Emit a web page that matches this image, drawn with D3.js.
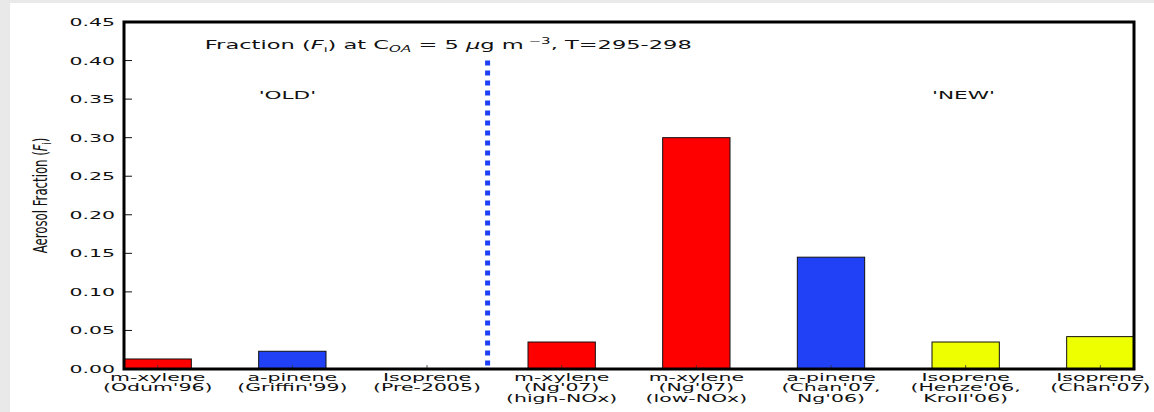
<!DOCTYPE html>
<html>
<head>
<meta charset="utf-8">
<script src="https://cdn.jsdelivr.net/npm/d3@7"></script>
<style>
  html, body { margin: 0; padding: 0; background: #e9e9e9; }
  svg { display: block; }
  text { font-family: "DejaVu Sans", sans-serif; fill: #111; }
</style>
</head>
<body>
<svg id="chart" width="1154" height="412"></svg>
<script>
// Aerosol fraction of SOA precursors at C_OA = 5 ug m^-3
const labelLines = [
  ["m-xylene", "(Odum'96)"],
  ["a-pinene", "(Griffin'99)"],
  ["Isoprene", "(Pre-2005)"],
  ["m-xylene", "(Ng'07)", "(high-NOx)"],
  ["m-xylene", "(Ng'07)", "(low-NOx)"],
  ["a-pinene", "(Chan'07,", "Ng'06)"],
  ["Isoprene", "(Henze'06,", "Kroll'06)"],
  ["Isoprene", "(Chan'07)"]
];
const fractions = [0.013, 0.023, 0.0, 0.035, 0.30, 0.145, 0.035, 0.042];
const barColors = ["#ff0000", "#2141f6", "#eeff00", "#ff0000", "#ff0000", "#2141f6", "#eeff00", "#eeff00"];
const yTicks = [0.00, 0.05, 0.10, 0.15, 0.20, 0.25, 0.30, 0.35, 0.40, 0.45];
const dividerX = 2.7;
const dividerTop = 0.40;
const groupNotes = [{ text: "'OLD'", x: 1.0, y: 0.35 }, { text: "'NEW'", x: 6.0, y: 0.35 }];

const svg = d3.select("#chart");
const SX = 1.86;   // horizontal glyph stretch

// white panel
svg.append("rect").attr("x", 10).attr("y", 3).attr("width", 1144).attr("height", 409).attr("fill", "#ffffff");

const plot = { left: 124, right: 1134, top: 22, bottom: 369 };
const x = d3.scaleLinear().domain([0, 7.5]).range([plot.left, plot.right]);
const y = d3.scaleLinear().domain([0, 0.45]).range([plot.bottom, plot.top]);

// stretched text helper
function stext(parent, px, py, anchor, size, sx) {
  const g = parent.append("g").attr("transform", `translate(${px},${py}) scale(${sx || SX},1)`);
  return g.append("text").attr("text-anchor", anchor).attr("font-size", size);
}

// bars
svg.append("g").selectAll("rect").data(fractions).join("rect")
  .attr("x", (d, i) => x(i))
  .attr("width", x(0.5) - x(0))
  .attr("y", d => y(d))
  .attr("height", d => y(0) - y(d))
  .attr("fill", (d, i) => barColors[i])
  .attr("stroke", d => d > 0 ? "#111" : "none")
  .attr("stroke-width", 1);

// x ticks (inside, bottom)
const xt = svg.append("g");
fractions.forEach((d, i) => {
  const cx = x(i + 0.25);
  xt.append("line").attr("x1", cx).attr("x2", cx).attr("y1", plot.bottom).attr("y2", plot.bottom - 4).attr("stroke", "#333").attr("stroke-width", 0.8);
});

// y ticks (inside) and labels
const yt = svg.append("g");
yTicks.forEach(v => {
  const py = y(v);
  yt.append("line").attr("x1", plot.left).attr("x2", plot.left + 8).attr("y1", py).attr("y2", py).attr("stroke", "#111").attr("stroke-width", 1);
  stext(yt, plot.left - 9, py + 4, "end", 11).text(d3.format(".2f")(v));
});

// category labels, one text per category
const xl = svg.append("g");
labelLines.forEach((lines, i) => {
  const t = stext(xl, x(i + 0.25), plot.bottom + 12, "middle", 11);
  lines.forEach((ln, k) => {
    t.append("tspan").attr("x", 0).attr("dy", k === 0 ? 0 : 10.5).text(ln);
  });
});

// divider between old and new studies
svg.append("line")
  .attr("x1", x(dividerX)).attr("x2", x(dividerX))
  .attr("y1", y(dividerTop)).attr("y2", y(0))
  .attr("stroke", "#1f3ff5").attr("stroke-width", 5)
  .attr("stroke-dasharray", "5,5");

// group notes
groupNotes.forEach(n => {
  stext(svg, x(n.x), y(n.y), "start", 10.8, 2.0).text(n.text);
});

// title with math
const title = stext(svg, x(0.6), y(0.415), "start", 12, 1.88);
title.append("tspan").text("Fraction (");
title.append("tspan").attr("font-style", "italic").text("F");
title.append("tspan").attr("font-size", 7.5).attr("dy", 3).text("i");
title.append("tspan").attr("dy", -3).text(") at C");
title.append("tspan").attr("font-style", "italic").attr("font-size", 8).attr("dy", 3).text("OA");
title.append("tspan").attr("dy", -3).text(" = 5 ");
title.append("tspan").attr("font-style", "italic").text("\u03bc");
title.append("tspan").text("g m");
title.append("tspan").attr("font-size", 8).attr("dy", -5).text(" \u22123");
title.append("tspan").attr("dy", 5).text(", T=295-298");

// y axis label
const ylab = svg.append("g").attr("transform", `translate(47,${(plot.top + plot.bottom) / 2}) scale(1.45,0.87) rotate(-90)`)
  .append("text").attr("text-anchor", "middle").attr("font-size", 13.5);
ylab.append("tspan").text("Aerosol Fraction (");
ylab.append("tspan").attr("font-style", "italic").text("F");
ylab.append("tspan").attr("font-size", 9).attr("dy", 3).text("i");
ylab.append("tspan").attr("dy", -3).text(")");

// frame
svg.append("rect")
  .attr("x", plot.left).attr("y", plot.top)
  .attr("width", plot.right - plot.left).attr("height", plot.bottom - plot.top)
  .attr("fill", "none").attr("stroke", "#000").attr("stroke-width", 3);
</script>
</body>
</html>
